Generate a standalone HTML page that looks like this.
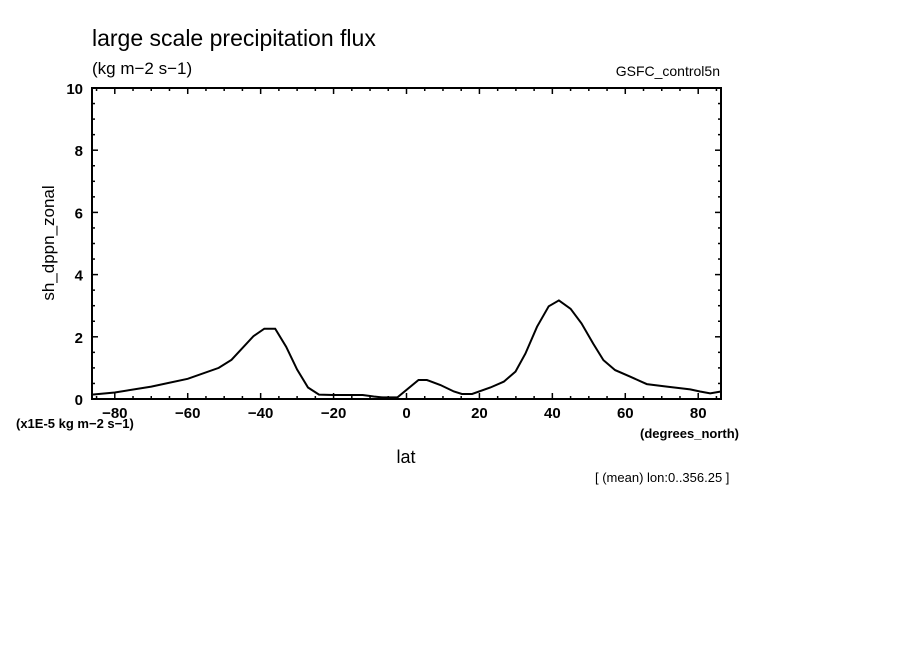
<!DOCTYPE html>
<html><head><meta charset="utf-8"><style>
body{margin:0;background:#fff;}
svg{display:block;font-family:"Liberation Sans",sans-serif;}
</style></head><body>
<svg id="chart" width="904" height="654" viewBox="0 0 904 654">
<text x="92" y="46" font-size="23">large scale precipitation flux</text>
<text x="92" y="74" font-size="17">(kg m−2 s−1)</text>
<text x="720" y="76" font-size="14" text-anchor="end">GSFC_control5n</text>
<text transform="translate(54,243) rotate(-90)" font-size="17" text-anchor="middle">sh_dppn_zonal</text>
<text x="406" y="463" font-size="18" text-anchor="middle">lat</text>
<text x="739" y="438" font-size="13" text-anchor="end" font-weight="bold">(degrees_north)</text>
<text x="16" y="428" font-size="13" font-weight="bold">(x1E-5 kg m−2 s−1)</text>
<text x="595" y="482" font-size="13">[ (mean) lon:0..356.25 ]</text>
<g id="axes"></g>
<path id="line" fill="none" stroke="#000" stroke-width="2"></path>
<rect x="92" y="88" width="629" height="311" fill="none" stroke="#000" stroke-width="2"></rect>
</svg>
<script>
const lats=[-86.25,-80,-70,-60,-51.5,-48,-42,-39,-36,-33,-30,-27,-24,-20,-12,-9,-6.5,-2.5,3.3,5.6,9.3,13,15.2,18,23,26.7,29.9,32.6,35.8,39,41.8,45,48,51.2,54,57.2,61.3,65.9,71.4,77.8,80.5,83.3,86.25];
const values=[0.14,0.21,0.4,0.65,1.0,1.26,2.02,2.26,2.26,1.68,0.95,0.37,0.14,0.13,0.13,0.08,0.05,0.05,0.61,0.61,0.45,0.24,0.16,0.16,0.37,0.56,0.88,1.46,2.32,2.98,3.17,2.9,2.43,1.78,1.25,0.93,0.72,0.48,0.4,0.31,0.24,0.18,0.24];
const xTicks=[-80,-60,-40,-20,0,20,40,60,80];
const yTicks=[0,2,4,6,8,10];
const X0=92,X1=721,Y0=399,Y1=88,LMIN=-86.25,LMAX=86.25;
const xs=v=>X0+(v-LMIN)/(LMAX-LMIN)*(X1-X0);
const ys=v=>Y0-v/10*(Y0-Y1);
const ns="http://www.w3.org/2000/svg";
const g=document.getElementById('axes');
function ln(x1,y1,x2,y2,w){const l=document.createElementNS(ns,'line');l.setAttribute('x1',x1);l.setAttribute('y1',y1);l.setAttribute('x2',x2);l.setAttribute('y2',y2);l.setAttribute('stroke','#000');l.setAttribute('stroke-width',w);


g.appendChild(l);}
function tx(x,y,s,a){const t=document.createElementNS(ns,'text');t.setAttribute('x',x);t.setAttribute('y',y);t.setAttribute('font-size','15');t.setAttribute('font-weight','bold');t.setAttribute('text-anchor',a);t.textContent=s;


g.appendChild(t);}
for(let v=-85;v<=85;v+=5){const x=xs(v);const M=v%20===0;ln(x,Y0,x,Y0-(M?6:3),1.5);ln(x,Y1,x,Y1+(M?6:3),1.5);}
for(let v=0;v<=10;v+=0.5){const y=ys(v);const M=Math.abs(v%2)<1e-9;ln(X0,y,X0+(M?6:3),y,1.5);ln(X1,y,X1-(M?6:3),y,1.5);}
xTicks.forEach(v=>tx(xs(v),418,v<0?'−'+Math.abs(v):String(v),'middle'));
yTicks.forEach(v=>tx(X0-9,ys(v)+6,String(v),'end'));
document.getElementById('line').setAttribute('d',lats.map((l,i)=>(i?'L':'M')+xs(l).toFixed(1)+','+ys(values[i]).toFixed(1)).join(''));
</script>
</body></html>
